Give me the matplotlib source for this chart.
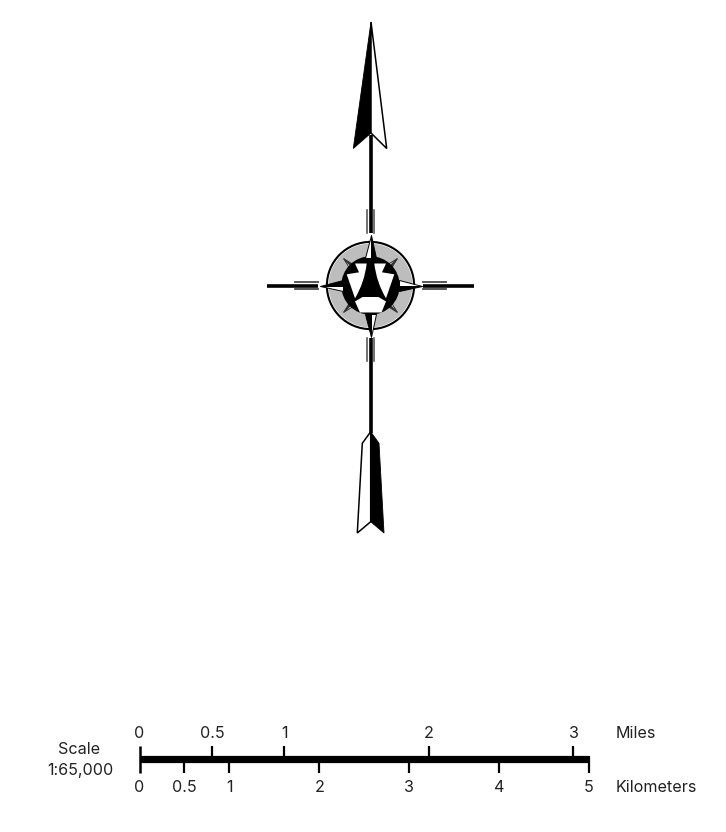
import numpy as np
import matplotlib.pyplot as plt
from matplotlib.patches import Circle, Polygon, PathPatch
from matplotlib.path import Path as MPath

plt.rcParams['font.family'] = ['Inter', 'Liberation Sans', 'DejaVu Sans']

W, H = 726, 832

# scale bar values
km_ticks = [0, 0.5, 1, 2, 3, 4, 5]
km_labels = ['0', '0.5', '1', '2', '3', '4', '5']
mile_ticks = [0, 0.5, 1, 2, 3]
mile_labels = ['0', '0.5', '1', '2', '3']
km_per_mile = 1.609
bar_length_km = 5

# north arrow outline, picture pixels
north_head_left = [(371, 22), (353.3, 148.5), (371, 133)]
north_head_right = [(371, 22), (386.7, 148.5), (371, 133)]
south_head_left = [(370.7, 431.7), (362.3, 443.3), (357.3, 533), (370.7, 521.7)]
south_head_right = [(370.7, 431.7), (379, 443.3), (384, 533), (370.7, 521.7)]

# compass rose, pixels from the centre
cx, cy = 370.5, 285.5
ring_radius = 43.6
gray_radius = 41.9
blob_radius = 29.2
key_left = [(-15.5, -22), (-3.8, -22), (-6, -3), (-15.5, 12.8), (-23.8, -11.2), (-11.5, -13.2)]
key_bottom = [(-15.5, 16), (-8, 11.5), (8, 11.5), (15.5, 16), (11, 27), (-10.5, 27)]
long_point = {'tip': 51, 'base': 28, 'half': 5.2}
short_point = {'tip': 38, 'base': 26, 'half': 2.8}

fig = plt.figure(figsize=(W / 100, H / 100), dpi=100)
ax = fig.add_axes([0, 0, 1, 1])
ax.set_xlim(0, W)
ax.set_ylim(H, 0)
ax.axis('off')


def draw_point(ax, angle, spec, edge='black', zorder=6):
    # one star point, half white and half black, angle in degrees clockwise from north
    a = np.radians(angle)
    u = np.array([np.sin(a), -np.cos(a)])
    n = np.array([np.cos(a), np.sin(a)])
    c = np.array([cx, cy])
    tip = c + u * spec['tip']
    base = c + u * spec['base']
    ax.add_patch(Polygon([tip, base, base - n * spec['half']], closed=True, fc='white',
                         ec=edge, lw=0.7, zorder=zorder))
    ax.add_patch(Polygon([tip, base, base + n * spec['half']], closed=True, fc=edge,
                         ec=edge, lw=0.7, zorder=zorder))


# shafts
shaft = dict(color='black', lw=2.6, solid_capstyle='butt', zorder=2)
ax.plot([cx, cx], [135, 233], **shaft)
ax.plot([cx, cx], [338, 433], **shaft)
ax.plot([267, 318], [cy, cy], **shaft)
ax.plot([423, 474], [cy, cy], **shaft)

# double lines next to the shafts
for off in (-3.6, 3.6):
    ax.plot([cx + off, cx + off], [210, 233], color='#4a4a4a', lw=1.1, zorder=2)
    ax.plot([cx + off, cx + off], [338, 361], color='#4a4a4a', lw=1.1, zorder=2)
    ax.plot([295, 318], [cy + off, cy + off], color='#4a4a4a', lw=1.3, zorder=2)
    ax.plot([423, 446], [cy + off, cy + off], color='#4a4a4a', lw=1.3, zorder=2)

# arrow heads
ax.add_patch(Polygon(north_head_left, closed=True, fc='black', ec='black', lw=0.6, zorder=3))
ax.add_patch(Polygon(north_head_right, closed=True, fc='white', ec='black', lw=1.1, zorder=3))
ax.add_patch(Polygon(south_head_left, closed=True, fc='white', ec='black', lw=1.1, zorder=3))
ax.add_patch(Polygon(south_head_right, closed=True, fc='black', ec='black', lw=0.6, zorder=3))

# rose: ring, gray band, black disc
ax.add_patch(Circle((cx, cy), ring_radius, fc='white', ec='black', lw=1.5, zorder=4))
ax.add_patch(Circle((cx, cy), gray_radius, fc='#bdbdbd', ec='none', zorder=4.1))
for ang in (45, 135, 225, 315):
    draw_point(ax, ang, short_point, edge='#333333', zorder=4.5)
ax.add_patch(Circle((cx, cy), blob_radius, fc='black', ec='none', zorder=5))

# keystone, mirrored about the vertical
codes = [MPath.MOVETO, MPath.LINETO, MPath.CURVE3, MPath.CURVE3, MPath.LINETO, MPath.LINETO,
         MPath.CLOSEPOLY]
for sign in (-1, 1):
    verts = [(cx + sign * x, cy + y) for x, y in key_left] + [(cx, cy)]
    ax.add_patch(PathPatch(MPath(verts, codes), fc='white', ec='none', zorder=5.5))
ax.add_patch(Polygon([(cx + x, cy + y) for x, y in key_bottom], closed=True, fc='white',
                     ec='none', zorder=5.5))

for ang in (0, 90, 180, 270):
    draw_point(ax, ang, long_point)

# scale bar in its own axes, x in kilometers, y still in pixels
x_left, x_right = 139.5, 589
y_top, y_bottom = 720, 800
sc = fig.add_axes([x_left / W, 1 - y_bottom / H, (x_right - x_left) / W, (y_bottom - y_top) / H])
sc.set_xlim(0, bar_length_km)
sc.set_ylim(y_bottom, y_top)
sc.axis('off')
sc.patch.set_alpha(0)

sc.hlines(759.2, 0, bar_length_km, color='black', lw=5.2, zorder=3)
sc.vlines(km_ticks[1:-1], 760, 772.5, color='black', lw=1.6, clip_on=False)
sc.vlines(km_ticks[-1], 756, 772.5, color='black', lw=1.6, clip_on=False)
sc.vlines(km_ticks[0], 745.5, 772.5, color='black', lw=1.8, clip_on=False)
mile_pos = np.array(mile_ticks) * km_per_mile
sc.vlines(mile_pos[1:], 745.5, 758, color='black', lw=1.6, clip_on=False)

tc = '#222222'
fs = 11.6
for k, lab in zip(km_ticks, km_labels):
    sc.text(k, 787, lab, ha='center', va='center', fontsize=fs, color=tc)
for m, lab in zip(mile_pos, mile_labels):
    sc.text(m, 733.5, lab, ha='center', va='center', fontsize=fs, color=tc)

ax.text(616, 733.5, 'Miles', ha='left', va='center', fontsize=fs, color=tc)
ax.text(616, 787, 'Kilometers', ha='left', va='center', fontsize=fs, color=tc)
ax.text(79, 750, 'Scale', ha='center', va='center', fontsize=fs, color=tc)
ax.text(80, 771, '1:65,000', ha='center', va='center', fontsize=fs, color=tc)

fig.savefig('out.png', dpi=100, facecolor='white')
plt.close(fig)
